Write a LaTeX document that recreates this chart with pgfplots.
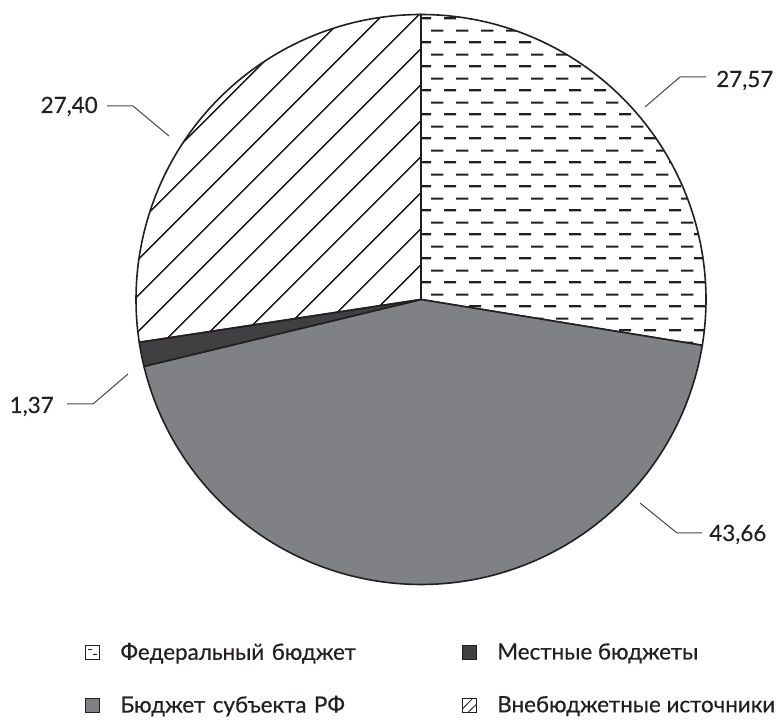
\documentclass[border=0pt]{standalone}
\usepackage{fontspec}
\setmainfont{Lato}[FakeBold=0.4]
\usepackage{pgfplots}
\pgfplotsset{compat=1.18}
\usepackage{pgfplotstable}
\usetikzlibrary{patterns.meta}

\definecolor{ink}{RGB}{35,31,32}
\definecolor{midgray}{RGB}{128,129,133}
\definecolor{darkgray}{RGB}{64,64,66}
\definecolor{leader}{RGB}{70,70,70}

\tikzdeclarepattern{
  name=hdashes,
  type=uncolored,
  bottom left={(0pt,0pt)},
  top right={(18.5pt,18pt)},
  tile size={(18.5pt,18pt)},
  code={\draw[line width=1.6pt] (0pt,4.5pt) -- (9.25pt,4.5pt) (9.25pt,13.5pt) -- (18.5pt,13.5pt);}
}

\pgfplotstableread{
name value
Fed 27.57
Subj 43.66
Loc 1.37
Ext 27.40
}\piedata

\pgfplotstablegetelem{0}{value}\of\piedata\let\vFed\pgfplotsretval
\pgfplotstablegetelem{1}{value}\of\piedata\let\vSubj\pgfplotsretval
\pgfplotstablegetelem{2}{value}\of\piedata\let\vLoc\pgfplotsretval
\pgfplotstablegetelem{3}{value}\of\piedata\let\vExt\pgfplotsretval

\pgfmathsetmacro{\aA}{90}
\pgfmathsetmacro{\aB}{\aA-3.6*\vFed}
\pgfmathsetmacro{\aC}{\aB-3.6*\vSubj}
\pgfmathsetmacro{\aD}{\aC-3.6*\vLoc}
\pgfmathsetmacro{\aE}{\aD-3.6*\vExt}

\def\cx{421}
\def\cy{420.5}
\def\R{285}

\newcommand{\labfont}{\fontsize{16.8}{19.5}\selectfont}

\begin{document}
\begin{tikzpicture}
\begin{axis}[
  width=585.75pt, height=540pt, scale only axis,
  xmin=0, xmax=781, ymin=0, ymax=720,
  hide axis, clip=false,
  legend columns=2, transpose legend,
  legend cell align=left,
  legend style={draw=none, fill=none, inner sep=0pt, outer sep=0pt,
    at={(axis cs:85,77)}, anchor=north west,
    font=\labfont, text=ink,
    row sep=25.5pt,
    nodes={inner sep=0pt},
    /tikz/every odd column/.append style={column sep=15.5pt},
    /tikz/column 2/.append style={nodes={text width=256pt}},
  },
]
\path (rel axis cs:0,0) rectangle (rel axis cs:1,1);

% Federal budget
\addplot[draw=ink, line width=1.2pt, pattern=hdashes, pattern color=ink, mark=none,
  domain=\aB:\aA, samples=120, variable=\t,
  legend image code/.code={
    \draw[ink, line width=0.6pt, fill=white] (0pt,-5.25pt) rectangle (10.5pt,5.25pt);
    \draw[ink, line width=0.7pt] (2pt,2.2pt) -- (5.2pt,2.2pt) (5.5pt,-1.2pt) -- (8.5pt,-1.2pt);
  }]
  ({\cx+\R*cos(\t)},{\cy+\R*sin(\t)}) -- (axis cs:\cx,\cy) -- cycle;
\addlegendentry{Федеральный бюджет}

% Subject budget
\addplot[draw=ink, line width=1.2pt, fill=midgray, mark=none,
  domain=\aC:\aB, samples=160, variable=\t,
  legend image code/.code={
    \draw[ink, line width=0.6pt, fill=midgray] (0pt,-5.25pt) rectangle (10.5pt,5.25pt);
  }]
  ({\cx+\R*cos(\t)},{\cy+\R*sin(\t)}) -- (axis cs:\cx,\cy) -- cycle;
\addlegendentry{Бюджет субъекта РФ}

% Local budgets
\addplot[draw=ink, line width=1.2pt, fill=darkgray, mark=none,
  domain=\aD:\aC, samples=20, variable=\t,
  legend image code/.code={
    \draw[ink, line width=0.6pt, fill=darkgray] (0pt,-5.25pt) rectangle (10.5pt,5.25pt);
  }]
  ({\cx+\R*cos(\t)},{\cy+\R*sin(\t)}) -- (axis cs:\cx,\cy) -- cycle;
\addlegendentry{Местные бюджеты}

% Extra-budgetary sources
\addplot[draw=ink, line width=1.2pt, pattern={Lines[angle=45,distance=19.5pt,line width=1.2pt]}, pattern color=ink, mark=none,
  domain=\aE:\aD, samples=120, variable=\t,
  legend image code/.code={
    \draw[ink, line width=0.6pt, fill=white] (0pt,-5.25pt) rectangle (10.5pt,5.25pt);
    \draw[ink, line width=0.6pt] (0pt,-3pt) -- (8pt,5.25pt) (4.5pt,-5.25pt) -- (10.5pt,0.5pt);
  }]
  ({\cx+\R*cos(\t)},{\cy+\R*sin(\t)}) -- (axis cs:\cx,\cy) -- cycle;
\addlegendentry{Внебюджетные источники}

% leader lines
\addplot[forget plot, leader, line width=0.75pt, mark=none] coordinates {(645,613) (680,643) (706,643)};
\addplot[forget plot, leader, line width=0.75pt, mark=none] coordinates {(169,584) (133,614) (107,614)};
\addplot[forget plot, leader, line width=0.75pt, mark=none] coordinates {(128,346) (93,316) (67,316)};
\addplot[forget plot, leader, line width=0.75pt, mark=none] coordinates {(640,217) (677,187) (702,187)};

\node[anchor=base west, inner sep=0pt, text=ink, font=\labfont] at (axis cs:716,633) {27,57};
\node[anchor=base east, inner sep=0pt, text=ink, font=\labfont] at (axis cs:98,607) {27,40};
\node[anchor=base east, inner sep=0pt, text=ink, font=\labfont] at (axis cs:54,307) {1,37};
\node[anchor=base west, inner sep=0pt, text=ink, font=\labfont] at (axis cs:709,179) {43,66};
\end{axis}
\end{tikzpicture}
\end{document}
